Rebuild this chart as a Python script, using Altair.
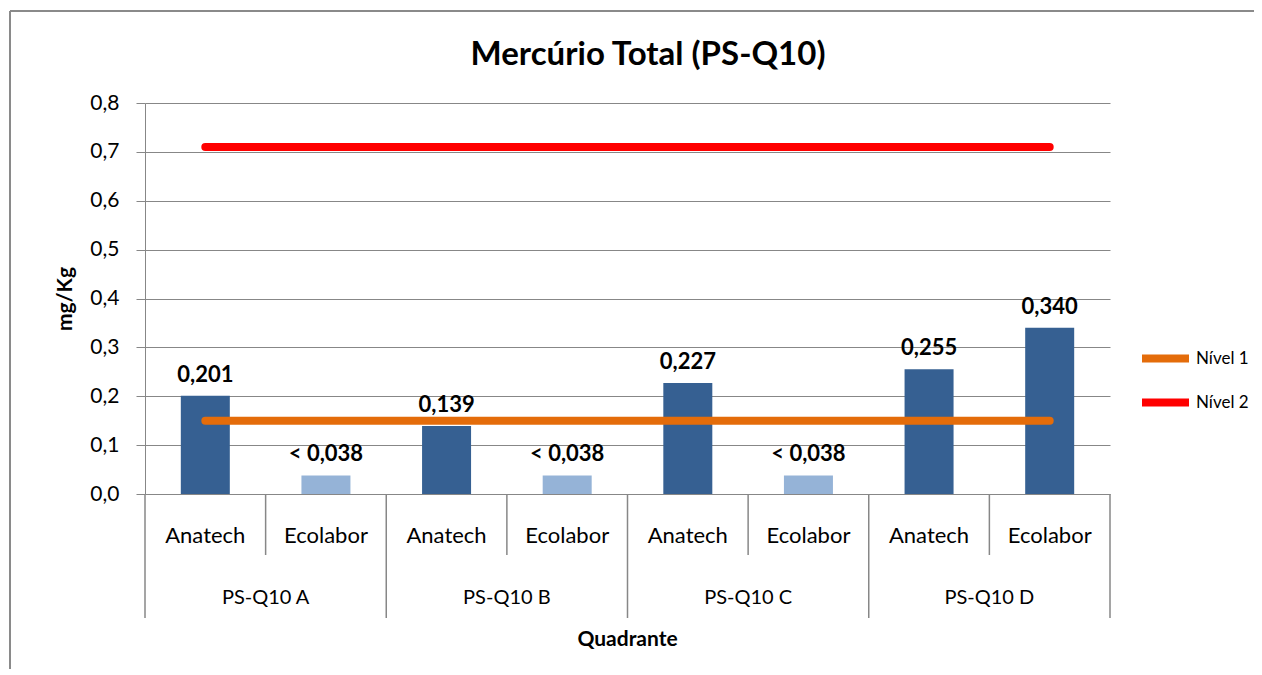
import altair as alt
import pandas as pd

# ---- data ----
chart_title = ["Mercúrio Total (PS-Q10)"]
quadrants = ["PS-Q10 A", "PS-Q10 B", "PS-Q10 C", "PS-Q10 D"]
labs = ["Anatech", "Ecolabor"]
values = [0.201, 0.038, 0.139, 0.038, 0.227, 0.038, 0.255, 0.340]
below_limit = [False, True, False, True, False, True, False, False]
level_names = ["Nível 1", "Nível 2"]
level_values = [0.15, 0.71]
y_ticks = [0.0, 0.1, 0.2, 0.3, 0.4, 0.5, 0.6, 0.7, 0.8]

FONT = "Lato"
W, H = 965, 391

rows = []
i = 0
for q in quadrants:
    for lab in labs:
        v = values[i]
        txt = f"{v:.3f}".replace(".", ",")
        kind = "detected"
        if below_limit[i]:
            txt = "< " + txt
            kind = "below"
        rows.append({"pos": i + 0.5, "quad": q, "lab": lab, "value": v,
                     "label": txt, "kind": kind})
        i += 1
bars_df = pd.DataFrame(rows)

lines_df = pd.DataFrame([
    {"pos": r["pos"], "level": name, "value": lv}
    for name, lv in zip(level_names, level_values)
    for r in rows
])

groups_df = pd.DataFrame([
    {"pos": 2 * k + 1.0, "quad": q} for k, q in enumerate(quadrants)
])
outer_bounds = pd.DataFrame({"b": [0, 2, 4, 6, 8]})
inner_bounds = pd.DataFrame({"b": [1, 3, 5, 7]})

xscale = alt.Scale(domain=[0, len(values)], nice=False, zero=False, padding=0)
yscale = alt.Scale(domain=[0, 0.8], nice=False, padding=0)
GRAY = "#878787"

bars = alt.Chart(bars_df).mark_bar(width=49).encode(
    x=alt.X("pos:Q", scale=xscale, axis=None),
    y=alt.Y(
        "value:Q",
        scale=yscale,
        title="mg/Kg",
        axis=alt.Axis(
            values=y_ticks,
            labelExpr="replace(format(datum.value, '.1f'), '.', ',')",
            grid=True,
            gridColor=GRAY,
            gridWidth=1,
            domainColor=GRAY,
            tickColor=GRAY,
            tickSize=9,
            labelPadding=17,
            labelFont=FONT,
            labelFontSize=21,
            labelColor="#000000",
            titleFont=FONT,
            titleFontSize=21,
            titleFontWeight="bold",
            titleColor="#000000",
            titlePadding=14,
        ),
    ),
    color=alt.Color(
        "kind:N",
        scale=alt.Scale(domain=["detected", "below"], range=["#366092", "#95B3D7"]),
        legend=None,
    ),
)

bar_labels = alt.Chart(bars_df).mark_text(
    font=FONT, fontSize=22, fontWeight="bold", baseline="bottom", dy=-9, color="#000000"
).encode(
    x=alt.X("pos:Q", scale=xscale),
    y=alt.Y("value:Q", scale=yscale),
    text="label:N",
)

lines = alt.Chart(lines_df).mark_line(strokeWidth=8, strokeCap="round").encode(
    x=alt.X("pos:Q", scale=xscale),
    y=alt.Y("value:Q", scale=yscale),
    color=alt.Color(
        "level:N",
        scale=alt.Scale(domain=level_names, range=["#E46C0A", "#FF0000"]),
        legend=alt.Legend(
            title=None,
            orient="none",
            legendX=993,
            legendY=228,
            symbolType="stroke",
            symbolSize=2209,
            symbolStrokeWidth=8,
            labelFont=FONT,
            labelFontSize=17,
            labelColor="#000000",
            labelOffset=3,
            rowPadding=0,
            padding=0,
        ),
    ),
)

outer_ticks = alt.Chart(outer_bounds).mark_rule(color=GRAY, strokeWidth=1.5).encode(
    x=alt.X("b:Q", scale=xscale),
    y=alt.value(H),
    y2=alt.value(H + 124),
)
inner_ticks = alt.Chart(inner_bounds).mark_rule(color=GRAY, strokeWidth=1.5).encode(
    x=alt.X("b:Q", scale=xscale),
    y=alt.value(H),
    y2=alt.value(H + 61),
)

lab_text = alt.Chart(bars_df).mark_text(
    font=FONT, fontSize=22, baseline="middle", color="#000000"
).encode(
    x=alt.X("pos:Q", scale=xscale),
    y=alt.value(H + 42),
    text="lab:N",
)
quad_text = alt.Chart(groups_df).mark_text(
    font=FONT, fontSize=20, baseline="middle", color="#000000"
).encode(
    x=alt.X("pos:Q", scale=xscale),
    y=alt.value(H + 104),
    text="quad:N",
)
x_title = alt.Chart(pd.DataFrame({"t": ["Quadrante"]})).mark_text(
    font=FONT, fontSize=21, fontWeight="bold", baseline="middle", color="#000000"
).encode(
    x=alt.value(W / 2),
    y=alt.value(H + 146),
    text="t:N",
)
title_text = alt.Chart(pd.DataFrame({"t": chart_title})).mark_text(
    font=FONT, fontSize=33, fontWeight="bold", baseline="middle", color="#000000"
).encode(
    x=alt.value(503),
    y=alt.value(-48),
    text="t:N",
)

# chart-area frame (Excel style): top and left edges
frame_top = alt.Chart(pd.DataFrame({"k": [0]})).mark_rule(color="#8a8a8a", strokeWidth=2).encode(
    x=alt.value(-135), x2=alt.value(1200), y=alt.value(-92)
)
frame_left = alt.Chart(pd.DataFrame({"k": [0]})).mark_rule(color="#8a8a8a", strokeWidth=2).encode(
    x=alt.value(-135), y=alt.value(-92), y2=alt.value(700)
)

chart = alt.layer(
    frame_top, frame_left, bars, outer_ticks, inner_ticks, lines, bar_labels,
    lab_text, quad_text, x_title, title_text,
).resolve_scale(
    color="independent"
).properties(
    width=W,
    height=H,
    autosize=alt.AutoSizeParams(type="none"),
    padding={"left": 137, "top": 95, "right": 144, "bottom": 175},
).configure_view(stroke=None)

chart.save("out.html", embed_options={"renderer": "svg", "actions": False})
